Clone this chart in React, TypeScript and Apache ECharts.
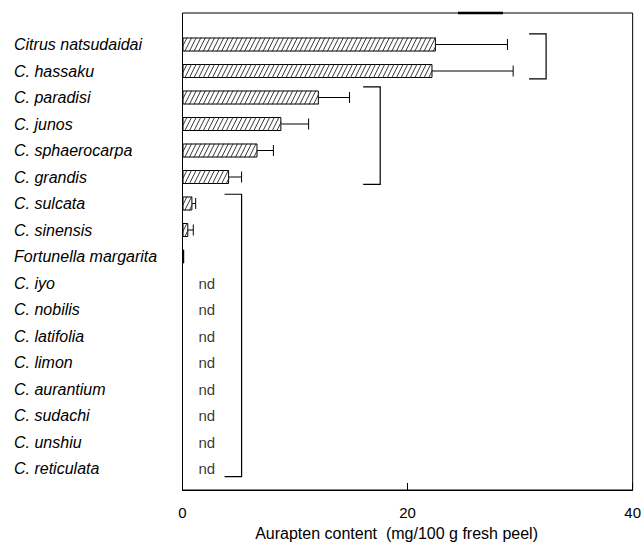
import React, { useEffect, useRef } from "react";
import * as echarts from "echarts";

const categories = [
  "Citrus natsudaidai",
  "C. hassaku",
  "C. paradisi",
  "C. junos",
  "C. sphaerocarpa",
  "C. grandis",
  "C. sulcata",
  "C. sinensis",
  "Fortunella margarita",
  "C. iyo",
  "C. nobilis",
  "C. latifolia",
  "C. limon",
  "C. aurantium",
  "C. sudachi",
  "C. unshiu",
  "C. reticulata",
];

// mg/100 g fresh peel; null = not detected (nd)
const auraptenMeans: (number | null)[] = [
  22.3, 22.0, 12.0, 8.7, 6.6, 4.1, 0.87, 0.51, 0.15,
  null, null, null, null, null, null, null, null,
];
const errorUpper: (number | null)[] = [
  28.6, 29.1, 14.7, 11.1, 8.0, 5.2, 1.16, 0.95, null,
  null, null, null, null, null, null, null, null,
];
// bars drawn solid black instead of hatched
const solidBars = ["Fortunella margarita"];

const xMin = 0;
const xMax = 40;
const xInterval = 20;
const ndLabelX = 1.4;

// grouping brackets: [innerX, outerX, fromRow, toRow]
const bracketInnerX = [30.5, 15.9, 3.7];
const bracketOuterX = [32.0, 17.4, 5.2];
const bracketFromRow = [-0.4, 1.6, 5.65];
const bracketToRow = [1.3, 5.28, 16.31];

const FONT = "'Liberation Sans', Arial, Helvetica, sans-serif";
const BAR_H = 14;

export default function App() {
  const ref = useRef<HTMLDivElement>(null);
  useEffect(() => {
    if (!ref.current) return;
    const chart = echarts.init(ref.current, undefined, { renderer: "svg" });

    const barData = auraptenMeans.map((v, i) =>
      v == null
        ? "-"
        : solidBars.includes(categories[i])
        ? { value: v, itemStyle: { color: "#000" } }
        : v
    );
    const hatchData: number[][] = [];
    auraptenMeans.forEach((v, i) => {
      if (v != null && !solidBars.includes(categories[i])) hatchData.push([v, i]);
    });
    const errData: number[][] = [];
    auraptenMeans.forEach((v, i) => {
      const u = errorUpper[i];
      if (v != null && u != null) errData.push([v, u, i]);
    });
    const ndData: (number | string)[][] = [];
    auraptenMeans.forEach((v, i) => {
      if (v == null) ndData.push([ndLabelX, categories[i]]);
    });
    const bracketData = bracketInnerX.map((x, i) => [
      x,
      bracketOuterX[i],
      0,
      bracketFromRow[i],
      bracketToRow[i],
    ]);

    chart.setOption({
      animation: false,
      textStyle: { fontFamily: FONT },
      graphic: [
        {
          type: "line",
          shape: { x1: 458, y1: 13, x2: 503, y2: 13 },
          style: { stroke: "#000", lineWidth: 2.5 },
          z: 100,
        },
      ],
      grid: [
        {
          left: 182.5,
          right: 7,
          top: 13,
          bottom: 51,
          show: true,
          borderColor: "#000",
          borderWidth: 1,
          backgroundColor: "transparent",
        },
        {
          left: 182.5,
          right: 7,
          top: 31.25,
          height: 450.5,
        },
      ],
      xAxis: [
        {
          type: "value",
          gridIndex: 0,
          min: xMin,
          max: xMax,
          interval: xInterval,
          axisLine: { show: true, lineStyle: { color: "#000", width: 1 } },
          axisTick: { show: true, inside: true, length: 7, lineStyle: { color: "#000" } },
          splitLine: { show: false },
          axisLabel: { color: "#000", fontSize: 15, margin: 15, fontFamily: FONT },
          name: "Aurapten content  (mg/100 g fresh peel)",
          nameLocation: "middle",
          nameGap: 35,
          nameTextStyle: { color: "#000", fontSize: 16, fontFamily: FONT, padding: [0, 22, 0, 0] },
        },
        {
          type: "value",
          gridIndex: 1,
          min: xMin,
          max: xMax,
          show: false,
        },
      ],
      yAxis: [
        { type: "value", gridIndex: 0, min: 0, max: 1, show: false },
        {
          type: "category",
          gridIndex: 1,
          data: categories,
          inverse: true,
          axisLine: { show: false },
          axisTick: { show: false },
          splitLine: { show: false },
          axisLabel: {
            align: "left",
            margin: 168.5,
            fontStyle: "italic",
            fontSize: 16,
            color: "#000",
            fontFamily: FONT,
          },
        },
      ],
      series: [
        {
          type: "bar",
          xAxisIndex: 1,
          yAxisIndex: 1,
          data: barData,
          barWidth: BAR_H,
          itemStyle: {
            color: "#fff",
            borderColor: "#000",
            borderWidth: 1,
          },
          z: 3,
        },
        {
          // diagonal hatching inside bars
          type: "custom",
          xAxisIndex: 1,
          yAxisIndex: 1,
          data: hatchData,
          encode: { x: 0, y: 1 },
          z: 4,
          renderItem: (params: any, api: any) => {
            const idx = api.value(1);
            const end = api.coord([api.value(0), idx]);
            const start = api.coord([0, idx]);
            const x0 = start[0];
            const x1 = end[0];
            const y0 = end[1] - BAR_H / 2;
            const y1 = end[1] + BAR_H / 2;
            const h = y1 - y0;
            const dx = h * 0.5;
            const step = 4.6;
            const children: any[] = [];
            for (let xb = x0 - dx; xb < x1; xb += step) {
              const tmin = Math.max(0, (x0 - xb) / dx);
              const tmax = Math.min(1, (x1 - xb) / dx);
              if (tmax <= tmin) continue;
              children.push({
                type: "line",
                shape: {
                  x1: xb + tmin * dx,
                  y1: y1 - tmin * h,
                  x2: xb + tmax * dx,
                  y2: y1 - tmax * h,
                },
                style: { stroke: "#222", lineWidth: 0.9 },
              });
            }
            return { type: "group", children };
          },
        },
        {
          type: "custom",
          xAxisIndex: 1,
          yAxisIndex: 1,
          data: errData,
          encode: { x: [0, 1], y: 2 },
          z: 5,
          renderItem: (params: any, api: any) => {
            const idx = api.value(2);
            const s = api.coord([api.value(0), idx]);
            const e = api.coord([api.value(1), idx]);
            const h = 5.5;
            return {
              type: "group",
              children: [
                {
                  type: "line",
                  shape: { x1: s[0], y1: s[1], x2: e[0], y2: e[1] },
                  style: { stroke: "#000", lineWidth: 1 },
                },
                {
                  type: "line",
                  shape: { x1: e[0], y1: e[1] - h, x2: e[0], y2: e[1] + h },
                  style: { stroke: "#000", lineWidth: 1 },
                },
              ],
            };
          },
        },
        {
          type: "custom",
          xAxisIndex: 1,
          yAxisIndex: 1,
          data: bracketData,
          dimensions: ["inner", "outer", "row", "from", "to"],
          encode: { x: [0, 1], y: 2 },
          z: 4,
          renderItem: (params: any, api: any) => {
            const y0 = api.coord([0, 0])[1];
            const band = api.size([0, 1])[1];
            const xi = api.coord([api.value(0), 0])[0];
            const xo = api.coord([api.value(1), 0])[0];
            const yt = y0 + api.value(3) * band;
            const yb = y0 + api.value(4) * band;
            return {
              type: "polyline",
              shape: {
                points: [
                  [xi, yt],
                  [xo, yt],
                  [xo, yb],
                  [xi, yb],
                ],
              },
              style: { stroke: "#000", lineWidth: 1.2, fill: "none" },
            };
          },
        },
        {
          type: "scatter",
          xAxisIndex: 1,
          yAxisIndex: 1,
          data: ndData,
          symbolSize: 0,
          label: {
            show: true,
            position: "right",
            distance: 0,
            formatter: "nd",
            color: "#000",
            fontSize: 15,
            fontFamily: FONT,
          },
        },
      ],
    });
    return () => chart.dispose();
  }, []);
  return (
    <div
      ref={ref}
      style={{ position: "absolute", left: 0, top: 0, width: 644, height: 546, background: "#fff" }}
    />
  );
}
